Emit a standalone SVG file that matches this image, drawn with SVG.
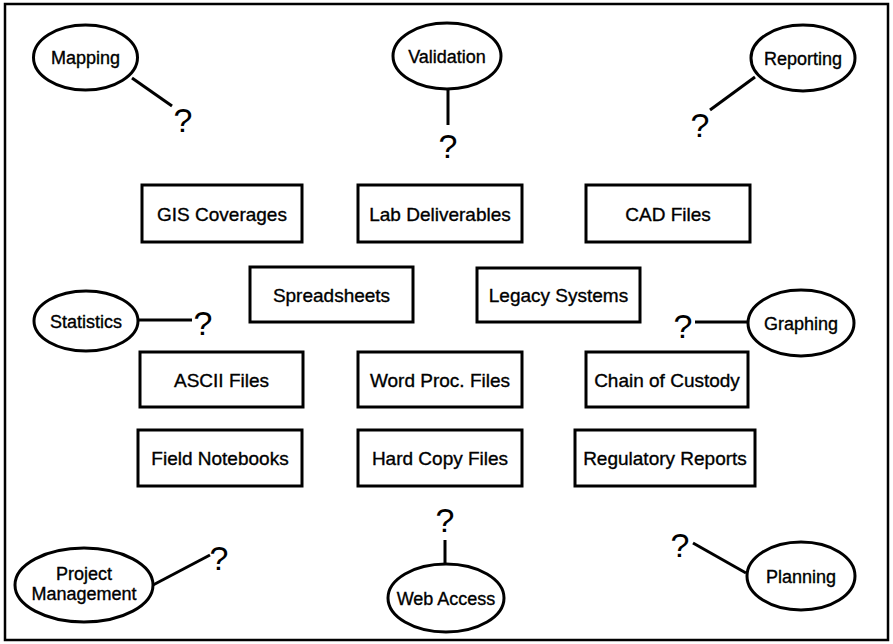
<svg xmlns="http://www.w3.org/2000/svg" width="893" height="644" viewBox="0 0 893 644">
<style>
.frame{fill:none;stroke:#000;stroke-width:2.5}
.box{fill:#fff;stroke:#000;stroke-width:3}
.ell{fill:#fff;stroke:#000;stroke-width:3}
.bt{font-family:"Liberation Sans",Arial,sans-serif;font-size:19px;text-anchor:middle;fill:#000;stroke:#000;stroke-width:0.35}
.et{font-family:"Liberation Sans",Arial,sans-serif;font-size:18px;text-anchor:middle;fill:#000;stroke:#000;stroke-width:0.35}
.q{font-family:"Liberation Sans",Arial,sans-serif;font-size:34px;text-anchor:middle;fill:#000}
.con line{stroke:#000;stroke-width:3}
</style>
<rect width="893" height="644" fill="#fff"/>
<rect class="frame" x="5" y="4" width="883" height="636"/>
<g id="connectors" class="con">
<line x1="132" y1="78" x2="172" y2="106"/>
<line x1="448" y1="89" x2="448" y2="125"/>
<line x1="755" y1="77" x2="710" y2="110"/>
<line x1="137" y1="320" x2="192" y2="320"/>
<line x1="695" y1="322" x2="748" y2="322"/>
<line x1="153" y1="585" x2="210" y2="555"/>
<line x1="445" y1="540" x2="445" y2="565"/>
<line x1="746" y1="573" x2="693" y2="543"/>
</g>
<g id="q-mapping"><text class="q" x="183" y="132">?</text></g>
<g id="q-validation"><text class="q" x="448" y="158">?</text></g>
<g id="q-reporting"><text class="q" x="700" y="137">?</text></g>
<g id="q-statistics"><text class="q" x="203" y="335">?</text></g>
<g id="q-graphing"><text class="q" x="683" y="338">?</text></g>
<g id="q-project"><text class="q" x="219" y="570">?</text></g>
<g id="q-web"><text class="q" x="445" y="532">?</text></g>
<g id="q-planning"><text class="q" x="680" y="557">?</text></g>
<g id="mapping"><ellipse class="ell" cx="85.5" cy="57.5" rx="52" ry="32.5"/><text class="et" x="85.5" y="64">Mapping</text></g>
<g id="validation"><ellipse class="ell" cx="447" cy="56" rx="54" ry="33"/><text class="et" x="447" y="62.5">Validation</text></g>
<g id="reporting"><ellipse class="ell" cx="803" cy="58" rx="52" ry="33"/><text class="et" x="803" y="64.5">Reporting</text></g>
<g id="statistics"><ellipse class="ell" cx="86" cy="321" rx="52" ry="30"/><text class="et" x="86" y="327.5">Statistics</text></g>
<g id="graphing"><ellipse class="ell" cx="801" cy="323" rx="53" ry="33"/><text class="et" x="801" y="329.5">Graphing</text></g>
<g id="project-management"><ellipse class="ell" cx="84" cy="585" rx="69" ry="37"/><text class="et" x="84" y="580">Project</text><text class="et" x="84" y="600">Management</text></g>
<g id="web-access"><ellipse class="ell" cx="446" cy="598" rx="58" ry="34"/><text class="et" x="446" y="604.5">Web Access</text></g>
<g id="planning"><ellipse class="ell" cx="801" cy="576" rx="54" ry="34"/><text class="et" x="801" y="582.5">Planning</text></g>
<g id="gis"><rect class="box" x="142" y="185" width="160" height="57"/><text class="bt" x="222" y="220.5">GIS Coverages</text></g>
<g id="lab"><rect class="box" x="358" y="185" width="164" height="57"/><text class="bt" x="440" y="220.5">Lab Deliverables</text></g>
<g id="cad"><rect class="box" x="586" y="185" width="164" height="57"/><text class="bt" x="668" y="220.5">CAD Files</text></g>
<g id="spreadsheets"><rect class="box" x="250" y="267" width="163" height="55"/><text class="bt" x="331.5" y="301.5">Spreadsheets</text></g>
<g id="legacy"><rect class="box" x="477" y="268" width="163" height="54"/><text class="bt" x="558.5" y="302">Legacy Systems</text></g>
<g id="ascii"><rect class="box" x="140" y="352" width="163" height="55"/><text class="bt" x="221.5" y="386.5">ASCII Files</text></g>
<g id="wordproc"><rect class="box" x="358" y="352" width="164" height="55"/><text class="bt" x="440" y="386.5">Word Proc. Files</text></g>
<g id="custody"><rect class="box" x="586" y="352" width="162" height="55"/><text class="bt" x="667" y="386.5">Chain of Custody</text></g>
<g id="field"><rect class="box" x="138" y="430" width="164" height="56"/><text class="bt" x="220" y="465">Field Notebooks</text></g>
<g id="hardcopy"><rect class="box" x="358" y="430" width="164" height="56"/><text class="bt" x="440" y="465">Hard Copy Files</text></g>
<g id="regulatory"><rect class="box" x="575" y="430" width="180" height="56"/><text class="bt" x="665" y="465">Regulatory Reports</text></g>
</svg>
